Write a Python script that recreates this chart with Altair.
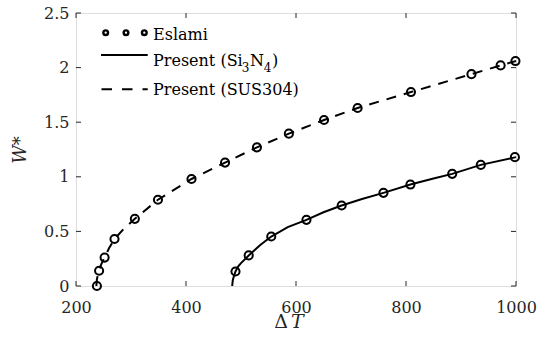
import altair as alt
import pandas as pd

# ---- data ----
# Eslami (markers)
sus_mk_dT = [238, 242, 252, 270, 307, 349, 410, 471, 529, 587, 651, 712, 809, 919, 972, 999]
sus_mk_W = [0.0, 0.14, 0.26, 0.43, 0.615, 0.79, 0.98, 1.13, 1.27, 1.395, 1.52, 1.63, 1.776, 1.94, 2.02, 2.06]
si_mk_dT = [490, 514, 555, 619, 683, 759, 808, 884, 936, 998]
si_mk_W = [0.133, 0.28, 0.453, 0.606, 0.737, 0.853, 0.929, 1.027, 1.109, 1.18]

# Present curves
si_ln_dT = [484, 485, 487, 490, 495, 500, 514, 535, 555, 585, 619, 650, 683, 720, 759, 808, 850, 884, 936, 1000]
si_ln_W = [0.0, 0.05, 0.09, 0.133, 0.18, 0.21, 0.28, 0.375, 0.453, 0.54, 0.606, 0.675, 0.737, 0.797, 0.853, 0.929, 0.985, 1.027, 1.109, 1.18]
sus_ln_dT = [237, 238, 240, 242, 246, 252, 260, 270, 287, 307, 349, 410, 471, 529, 587, 651, 712, 809, 919, 972, 1000]
sus_ln_W = [0.0, 0.06, 0.11, 0.14, 0.2, 0.26, 0.345, 0.43, 0.525, 0.615, 0.79, 0.98, 1.13, 1.27, 1.395, 1.52, 1.63, 1.776, 1.94, 2.02, 2.06]

x_ticks = [200, 400, 600, 800, 1000]
y_ticks = [0, 0.5, 1, 1.5, 2, 2.5]

W, H = 440, 273
FONT = "DejaVu Serif"
AX = "#262626"

xs = alt.Scale(domain=[200, 1000], nice=False, zero=False)
ys = alt.Scale(domain=[0, 2.5], nice=False)

markers = pd.DataFrame({"dT": sus_mk_dT + si_mk_dT, "W": sus_mk_W + si_mk_W})
si_line = pd.DataFrame({"dT": si_ln_dT, "W": si_ln_W})
sus_line = pd.DataFrame({"dT": sus_ln_dT, "W": sus_ln_W})
xt = pd.DataFrame({"v": x_ticks})
yt = pd.DataFrame({"v": y_ticks})

xaxis = alt.Axis(values=x_ticks, format="d", ticks=False, domain=False, grid=False, labelFlush=False,
                 labelFont=FONT, labelFontSize=16, labelColor=AX, labelPadding=13, title=None)
yaxis = alt.Axis(values=y_ticks, format="~g", ticks=False, domain=False, grid=False, labelFlush=False,
                 labelFont=FONT, labelFontSize=16, labelColor=AX, labelPadding=7,
                 title="W*", titleFont=FONT, titleFontSize=18, titleFontStyle="italic",
                 titleFontWeight="normal", titleColor=AX, titlePadding=14)

sus = alt.Chart(sus_line).mark_line(color="black", strokeWidth=2, strokeDash=[10, 8]).encode(
    x=alt.X("dT:Q", scale=xs, axis=xaxis), y=alt.Y("W:Q", scale=ys, axis=yaxis))
si = alt.Chart(si_line).mark_line(color="black", strokeWidth=2).encode(
    x=alt.X("dT:Q", scale=xs), y=alt.Y("W:Q", scale=ys))
pts = alt.Chart(markers).mark_point(shape="circle", filled=False, color="black", size=66, strokeWidth=2, opacity=1).encode(
    x=alt.X("dT:Q", scale=xs), y=alt.Y("W:Q", scale=ys))

tk = dict(color=AX, strokeWidth=1)
t_bot = alt.Chart(xt).mark_rule(**tk).encode(x=alt.X("v:Q", scale=xs), y=alt.value(H), y2=alt.value(H - 5))
t_top = alt.Chart(xt).mark_rule(**tk).encode(x=alt.X("v:Q", scale=xs), y=alt.value(0), y2=alt.value(5))
t_left = alt.Chart(yt).mark_rule(**tk).encode(y=alt.Y("v:Q", scale=ys), x=alt.value(0), x2=alt.value(5))
t_right = alt.Chart(yt).mark_rule(**tk).encode(y=alt.Y("v:Q", scale=ys), x=alt.value(W), x2=alt.value(W - 5))

# ---- legend ----
one = pd.DataFrame({"k": [0]})
leg_pts = pd.DataFrame({"px": [29.7, 50, 68.3]})
lg_m = alt.Chart(leg_pts).mark_point(shape="circle", filled=False, color="black", size=22, strokeWidth=2.4, opacity=1).encode(
    x=alt.X("px:Q", scale=None), y=alt.value(19.7))
lg_s = alt.Chart(one).mark_rule(color="black", strokeWidth=2).encode(x=alt.value(25), x2=alt.value(71.7), y=alt.value(42))
lg_d = alt.Chart(one).mark_rule(color="black", strokeWidth=2, strokeDash=[10.5, 10]).encode(
    x=alt.value(25.5), x2=alt.value(71.7), y=alt.value(76.3))

leg_text = pd.DataFrame({
    "t": ["Eslami", "Present (Si", "3", "N", "4", ")", "Present (SUS304)"],
    "px": [77, 77, 165.8, 174, 187.8, 196, 77],
    "py": [27, 53, 59, 53, 59, 53, 82],
    "fs": [16, 16, 12, 16, 12, 16, 16],
})
lg_t = alt.Chart(leg_text).mark_text(font=FONT, align="left", baseline="alphabetic", color="black").encode(
    x=alt.X("px:Q", scale=None), y=alt.Y("py:Q", scale=None), text="t:N",
    size=alt.Size("fs:Q", scale=None, legend=None))

# ---- x title (ΔT with italic T) ----
xtitle = pd.DataFrame({"t": ["Δ", "T"], "px": [212, 215]})
xt_d = alt.Chart(xtitle.iloc[[0]]).mark_text(font=FONT, fontSize=19, align="right", baseline="alphabetic", color=AX).encode(
    x=alt.X("px:Q", scale=None), y=alt.value(315.3), text="t:N")
xt_t = alt.Chart(xtitle.iloc[[1]]).mark_text(font=FONT, fontSize=19, fontStyle="italic", align="left", baseline="alphabetic", color=AX).encode(
    x=alt.X("px:Q", scale=None), y=alt.value(315.3), text="t:N")

chart = alt.layer(sus, si, pts, t_bot, t_top, t_left, t_right, lg_m, lg_s, lg_d, lg_t, xt_d, xt_t).properties(
    width=W, height=H,
    autosize=alt.AutoSizeParams(type="none"),
    padding={"left": 76, "top": 13, "right": 28, "bottom": 61},
    background="white",
).configure_view(stroke=AX, strokeWidth=1.2).configure(font=FONT)

chart.save("out.html", embed_options={"renderer": "svg", "actions": False})
